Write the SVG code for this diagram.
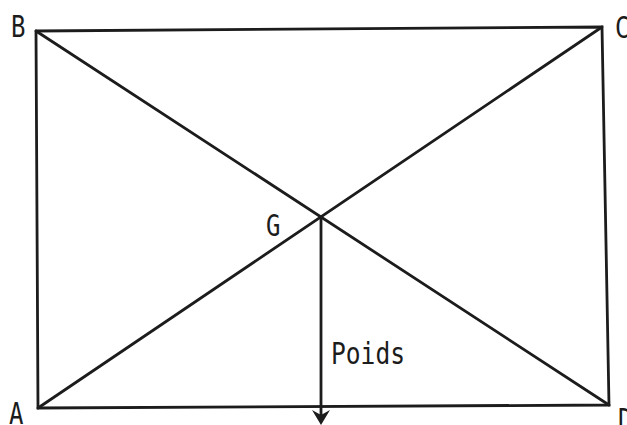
<svg xmlns="http://www.w3.org/2000/svg" width="627" height="425" viewBox="0 0 627 425">
<style>
.ln{stroke:#1c1c1c;stroke-width:2.8;fill:none;stroke-linecap:round}
.lb{font-family:"DejaVu Sans Mono","Liberation Mono",monospace;font-size:30px;fill:#1c1c1c}
</style>
<rect width="627" height="425" fill="#ffffff"/>
<g id="connectors">
<polyline class="ln" points="36,31 602,27 609,405 38,408 36,31"/>
<line class="ln" x1="36" y1="31" x2="609" y2="405"/>
<line class="ln" x1="38" y1="408" x2="602" y2="27"/>
<line class="ln" x1="321" y1="218" x2="321" y2="418"/>
<path d="M312,410 L321,425 L330,410 L321,415 Z" fill="#1c1c1c"/>
</g>
<g id="B"><text class="lb" transform="translate(11,37) scale(0.8,1)">B</text></g>
<g id="C"><text class="lb" transform="translate(615,38) scale(0.8,1)">C</text></g>
<g id="A"><text class="lb" transform="translate(9,424) scale(0.8,1)">A</text></g>
<g id="D"><text class="lb" transform="translate(618,430) scale(0.8,1)">D</text></g>
<g id="G"><text class="lb" transform="translate(266,236) scale(0.8,1)">G</text></g>
<g id="Poids"><text class="lb" transform="translate(331,364) scale(0.82,1)">Poids</text></g>
</svg>
